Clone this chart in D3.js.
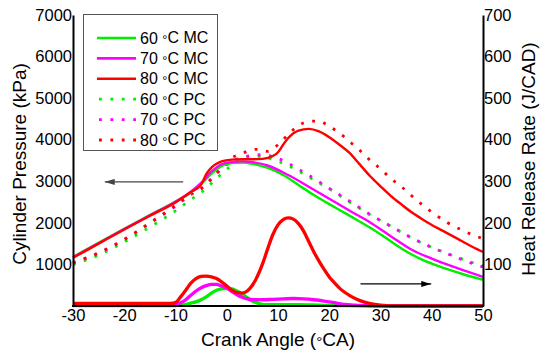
<!DOCTYPE html>
<html>
<head>
<meta charset="utf-8">
<script src="https://cdn.jsdelivr.net/npm/d3@7"></script>
<style>
  body { margin: 0; background: #fff; }
  text { font-family: Arial, "Liberation Sans", sans-serif; fill: #000; }
</style>
</head>
<body>
<div id="chart"></div>
<script>
//****************************************************************************
//Data

// pressure, kPa  [crank angle, value]
const p60MC = [[-30,1180],[-25,1520],[-20,1860],[-15,2190],[-10,2510],[-7,2730],[-5,2930],[-3,3180],[-1,3370],[1,3440],[3,3450],[5,3420],[8,3320],[11,3150],[14,2910],[17,2670],[20,2450],[22,2310],[25,2100],[28,1880],[31,1640],[34,1390],[38,1120],[42,930],[46,770],[50,630]];
const p70MC = [[-30,1170],[-25,1510],[-20,1850],[-15,2180],[-10,2510],[-7,2750],[-5,2960],[-3,3230],[-1,3410],[1,3460],[3,3480],[5,3460],[8,3380],[12,3150],[16,2870],[20,2580],[24,2290],[28,2010],[32,1680],[36,1360],[40,1140],[45,910],[50,700]];
const p80MC = [[-30,1160],[-25,1500],[-20,1840],[-15,2170],[-10,2490],[-7,2740],[-5,2920],[-4,3170],[-3,3330],[-2,3420],[-1,3480],[1,3520],[3,3530],[5,3530],[7,3540],[9,3610],[10,3700],[11,3880],[12,4040],[14,4220],[16,4260],[18,4200],[20,4060],[22,3880],[24,3680],[26,3400],[28,3120],[30,2880],[32,2650],[34,2450],[36,2260],[38,2100],[40,1950],[42,1820],[45,1620],[48,1420],[50,1300]];

const p60PC = [[-30,1000],[-25,1220],[-20,1540],[-15,1900],[-10,2290],[-7,2560],[-5,2730],[-3,2950],[-1,3180],[1,3380],[3,3530],[5,3600],[7,3600],[9,3520],[11,3430],[14,3250],[17,3030],[20,2820],[24,2500],[28,2190],[32,1920],[36,1640],[40,1410],[44,1220],[48,1040],[50,970]];
const p70PC = [[-30,1040],[-25,1270],[-20,1600],[-15,1990],[-10,2400],[-7,2680],[-5,2830],[-3,3060],[-1,3300],[1,3480],[3,3580],[5,3620],[7,3640],[9,3590],[11,3500],[14,3290],[17,3070],[20,2830],[24,2520],[28,2200],[32,1920],[36,1650],[40,1410],[44,1210],[48,1020],[50,940]];
const p80PC = [[-30,1040],[-25,1280],[-20,1600],[-15,2000],[-10,2420],[-7,2690],[-5,2820],[-3,3050],[-1,3330],[1,3560],[3,3670],[5,3760],[6,3770],[8,3720],[10,3880],[12,4130],[14,4340],[16,4440],[18,4450],[20,4320],[22,4160],[24,3950],[26,3740],[28,3500],[30,3300],[32,3070],[34,2880],[36,2660],[38,2450],[40,2260],[43,2010],[46,1820],[48,1710],[50,1620]];

// heat release rate, J/CAD
const h60MC = [[-30,1],[-10,1],[-9,2],[-8,4],[-7,7],[-6,10],[-5,15],[-4,22],[-3,31],[-2,38],[-1,41],[0,42],[1,41],[2,36],[3,29],[4,20],[5,12],[6,7],[7,4],[8,3],[10,3],[14,3],[18,2],[22,1],[26,0.5],[30,0],[50,0]];
const h70MC = [[-30,3],[-11,3],[-10,4],[-9,8],[-8,15],[-7,26],[-6,36],[-5,44],[-4,49],[-3,52],[-2,52],[-1,48],[0,43],[1,35],[2,27],[3,21],[4,17],[5,15],[7,15],[9,16],[11,17],[13,18],[15,17],[17,15],[19,12],[21,8],[23,4],[25,2],[28,0.5],[30,0],[50,0]];
const h80MC = [[-30,6],[-15,6],[-11,6],[-10,8],[-9,22],[-8,38],[-7,55],[-6,66],[-5,71],[-4,72],[-3,70],[-2,66],[-1,58],[0,48],[1,38],[2,32],[3,31],[4,36],[5,50],[6,72],[7,102],[8,138],[9,172],[10,195],[11,208],[12,212],[13,209],[14,198],[15,180],[16,155],[17,130],[18,108],[19,88],[20,70],[21,56],[22,43],[23,33],[24,25],[26,13],[28,6],[30,2],[32,0],[50,0]];

const legendLabels = ["60 °C MC", "70 °C MC", "80 °C MC", "60 °C PC", "70 °C PC", "80 °C PC"];
const seriesColors = ["#00ee00", "#ff00ff", "#ff0000"];

const xTicks = [-30, -20, -10, 0, 10, 20, 30, 40, 50];
const pTicks = [1000, 2000, 3000, 4000, 5000, 6000, 7000];
const hTicks = [100, 200, 300, 400, 500, 600, 700];

//****************************************************************************
//Chart (svg)

const canvWidth = 550, canvHeight = 362;
const plot = {left: 73, right: 483, top: 15, bottom: 306};

const svg = d3.select("#chart").append("svg")
  .attr("width", canvWidth)
  .attr("height", canvHeight);

//Scales
const xScale = d3.scaleLinear().domain([-30, 50]).range([plot.left, plot.right]);
const yP = d3.scaleLinear().domain([0, 7000]).range([plot.bottom, plot.top]);
const yH = d3.scaleLinear().domain([0, 700]).range([plot.bottom, plot.top]);

const lineP = d3.line().x(d => xScale(d[0])).y(d => yP(d[1])).curve(d3.curveMonotoneX);
const lineH = d3.line().x(d => xScale(d[0])).y(d => yH(d[1])).curve(d3.curveMonotoneX);

const gLines = svg.append("g").attr("id", "lines");

//heat release (thick solid)
[h60MC, h70MC, h80MC].forEach((s, i) => {
  gLines.append("path").datum(s)
    .attr("d", lineH)
    .attr("fill", "none")
    .attr("stroke", seriesColors[i])
    .attr("stroke-width", 3.3);
});

//pressure PC (dotted)
[p60PC, p70PC, p80PC].forEach((s, i) => {
  gLines.append("path").datum(s)
    .attr("d", lineP)
    .attr("fill", "none")
    .attr("stroke", seriesColors[i])
    .attr("stroke-width", 2.8)
    .attr("stroke-dasharray", "2.8,8.6");
});

//pressure MC (solid)
[p60MC, p70MC, p80MC].forEach((s, i) => {
  gLines.append("path").datum(s)
    .attr("d", lineP)
    .attr("fill", "none")
    .attr("stroke", seriesColors[i])
    .attr("stroke-width", 2.4);
});

//**************************************************************************
//Axes (no tick marks, labels touch the axis lines)

const plain = d => String(d);

const xAxis = d3.axisBottom(xScale).tickValues(xTicks).tickFormat(plain).tickSize(0).tickPadding(3);
const gx = svg.append("g").attr("transform", `translate(0,${plot.bottom})`).call(xAxis);

const yAxisL = d3.axisLeft(yP).tickValues(pTicks).tickFormat(plain).tickSize(0).tickPadding(1);
const gyl = svg.append("g").attr("transform", `translate(${plot.left},0)`).call(yAxisL);

const yAxisR = d3.axisRight(yH).tickValues(hTicks).tickFormat(plain).tickSize(0).tickPadding(1);
const gyr = svg.append("g").attr("transform", `translate(${plot.right},0)`).call(yAxisR);

[gx, gyl, gyr].forEach(g => {
  g.select(".domain").attr("stroke", "#000").attr("stroke-width", 2);
  g.selectAll("text")
    .style("font-family", "Arial, 'Liberation Sans', sans-serif")
    .style("font-size", "16.5px")
    .attr("fill", "#000");
});
gx.select(".domain").attr("d", `M${plot.left - 1},0H${plot.right + 1}`);

//axis titles -- the degree ring sits a bit lower than usual in the original
const degText = (sel, before, after) => {
  sel.append("tspan").text(before);
  sel.append("tspan").attr("dy", "0.05em").style("font-size", "0.8em").text("°");
  sel.append("tspan").attr("dy", "-0.05em").text(after);
};

const xTitle = svg.append("text")
  .attr("x", (plot.left + plot.right) / 2)
  .attr("y", 346)
  .attr("text-anchor", "middle")
  .style("font-size", "19px");
degText(xTitle, "Crank Angle (", "CA)");

svg.append("text")
  .attr("transform", `translate(26,164) rotate(-90)`)
  .attr("text-anchor", "middle")
  .style("font-size", "19px")
  .text("Cylinder Pressure (kPa)");

svg.append("text")
  .attr("transform", `translate(535,159) rotate(-90)`)
  .attr("text-anchor", "middle")
  .style("font-size", "19px")
  .text("Heat Release Rate (J/CAD)");

//**************************************************************************
//Arrows

const defs = svg.append("defs");
const addHead = (id, color) => defs.append("marker")
  .attr("id", id)
  .attr("viewBox", "0 0 10 6")
  .attr("refX", 10).attr("refY", 3)
  .attr("markerWidth", 10).attr("markerHeight", 6)
  .attr("markerUnits", "userSpaceOnUse")
  .attr("orient", "auto")
  .append("path").attr("d", "M0,0L10,3L0,6Z").attr("fill", color);
addHead("headGray", "#444");
addHead("headBlack", "#000");

svg.append("line")
  .attr("x1", xScale(-8.5)).attr("y1", yP(2985))
  .attr("x2", xScale(-23.8)).attr("y2", yP(2985))
  .attr("stroke", "#444").attr("stroke-width", 1.2)
  .attr("marker-end", "url(#headGray)");

svg.append("line")
  .attr("x1", xScale(26.1)).attr("y1", yH(53))
  .attr("x2", xScale(39.9)).attr("y2", yH(53))
  .attr("stroke", "#000").attr("stroke-width", 1.2)
  .attr("marker-end", "url(#headBlack)");

//**************************************************************************
//Legend

const legend = svg.append("g").attr("id", "legend");
legend.append("rect")
  .attr("x", 83.5).attr("y", 14.5)
  .attr("width", 134).attr("height", 136)
  .attr("fill", "#fff")
  .attr("stroke", "#555").attr("stroke-width", 1);

legendLabels.forEach((lab, i) => {
  const yy = 38 + i * 20.4;
  const dotted = i >= 3;
  legend.append("line")
    .attr("x1", dotted ? 99 : 97).attr("x2", 136)
    .attr("y1", yy).attr("y2", yy)
    .attr("stroke", seriesColors[i % 3])
    .attr("stroke-width", dotted ? 2.8 : 2.6)
    .attr("stroke-dasharray", dotted ? "2.8,8.6" : null);
  const t = legend.append("text")
    .attr("x", 140).attr("y", yy + 5.5)
    .style("font-size", "16px");
  const parts = lab.split("°");
  degText(t, parts[0], parts[1]);
});
</script>
</body>
</html>
